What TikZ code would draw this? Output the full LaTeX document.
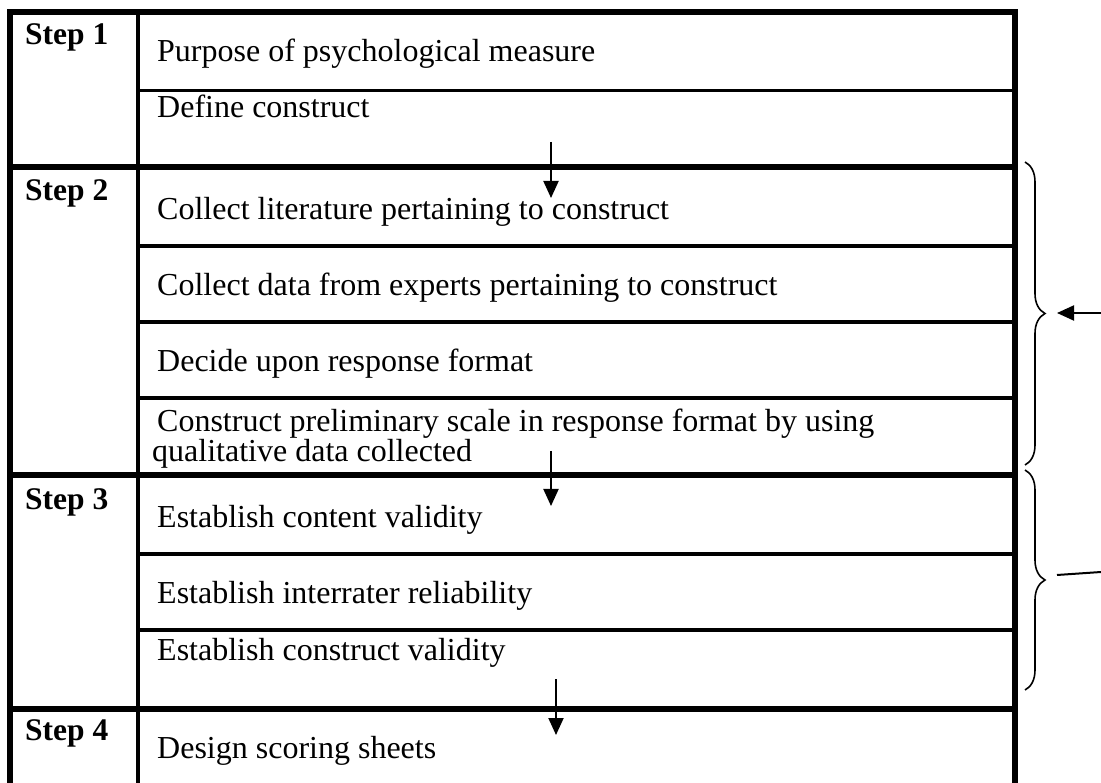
\documentclass[tikz,border=0pt]{standalone}
\usepackage{fontspec}
\setmainfont{Liberation Serif}
\usetikzlibrary{arrows.meta,decorations.pathreplacing}
\begin{document}
\begin{tikzpicture}[x=1pt,y=-1pt,
  thickrule/.style={line width=6pt},
  thinrule/.style={line width=3.5pt},
  steplabel/.style={anchor=base west,inner sep=0pt,font=\fontsize{31.5}{36}\selectfont\bfseries},
  item/.style={anchor=base west,inner sep=0pt,font=\fontsize{32}{36}\selectfont},
  flow/.style={line width=2pt,-{Triangle[length=17pt,width=15pt]}},
  bracestyle/.style={decorate,decoration={brace,amplitude=20pt},line width=1.6pt}
]
\useasboundingbox (0,0) rectangle (1101,783);
% frame and column divider
\draw[thickrule] (10,783) -- (10,12) -- (1014.5,12) -- (1014.5,783);
\draw[line width=4pt] (138,12) -- (138,783);
% step separators
\foreach \yy in {167.5,475.5,709} \draw[thickrule] (10,\yy) -- (1014.5,\yy);
% item separators
\foreach \yy in {90.5,246,322,398,554,630} \draw[thinrule] (138,\yy) -- (1014.5,\yy);
% step labels
\node[steplabel] (s1) at (25,45) {Step 1};
\node[steplabel] (s2) at (25,201) {Step 2};
\node[steplabel] (s3) at (25,510) {Step 3};
\node[steplabel] (s4) at (25,740) {Step 4};
% items
\node[item] (i1) at (157,62) {Purpose of psychological measure};
\node[item] (i2) at (157,118) {Define construct};
\node[item] (i3) at (157,220) {Collect literature pertaining to construct};
\node[item] (i4) at (157,296) {Collect data from experts pertaining to construct};
\node[item] (i5) at (157,372) {Decide upon response format};
\node[item] (i6) at (157,432) {Construct preliminary scale in response format by using};
\node[item] (i6b) at (152,462) {qualitative data collected};
\node[item] (i7) at (157,527) {Establish content validity};
\node[item] (i8) at (157,603) {Establish interrater reliability};
\node[item] (i9) at (157,660) {Establish construct validity};
\node[item] (i10) at (157,758) {Design scoring sheets};
% down arrows
\coordinate (a1s) at (551,142); \coordinate (a1e) at (551,198);
\coordinate (a2s) at (551,451); \coordinate (a2e) at (551,506);
\coordinate (a3s) at (556,679); \coordinate (a3e) at (556,735);
\draw[flow] (a1s) -- (a1e);
\draw[flow] (a2s) -- (a2e);
\draw[flow] (a3s) -- (a3e);
% braces
\coordinate (b1t) at (1025,162); \coordinate (b1b) at (1025,465);
\coordinate (b2t) at (1025,470); \coordinate (b2b) at (1025,690);
\draw[bracestyle] (b1t) -- (b1b);
\draw[bracestyle] (b2t) -- (b2b);
% side connectors
\coordinate (r1s) at (1101,313); \coordinate (r1e) at (1057,313);
\draw[flow] (r1s) -- (r1e);
\coordinate (r2s) at (1101,572); \coordinate (r2e) at (1057,575);
\draw[line width=2pt] (r2s) -- (r2e);
\end{tikzpicture}
\end{document}
